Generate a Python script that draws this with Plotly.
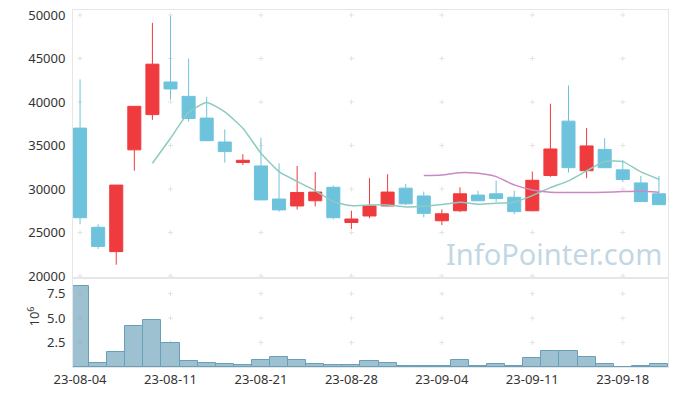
import plotly.graph_objects as go

dates = ["23-08-04", "23-08-07", "23-08-08", "23-08-09", "23-08-10", "23-08-11",
         "23-08-14", "23-08-16", "23-08-17", "23-08-18", "23-08-21", "23-08-22",
         "23-08-23", "23-08-24", "23-08-25", "23-08-28", "23-08-29", "23-08-30",
         "23-08-31", "23-09-01", "23-09-04", "23-09-05", "23-09-06", "23-09-07",
         "23-09-08", "23-09-11", "23-09-12", "23-09-13", "23-09-14", "23-09-15",
         "23-09-18", "23-09-19", "23-09-20"]

opens = [37000, 25600, 22800, 34500, 38550, 42300, 40650, 38150, 35400, 33050, 32650,
         28850, 28050, 28650, 30200, 26150, 26900, 28050, 30100, 29200, 26350, 27500,
         29300, 29450, 29050, 27500, 31550, 37800, 32100, 34550, 32200, 30700, 29450]
highs = [42600, 25950, 30450, 39500, 49100, 49900, 45000, 40600, 36850, 34000, 35900,
         32950, 32650, 31950, 30400, 27500, 31250, 31700, 30600, 29700, 27650, 30200,
         29800, 30950, 29800, 32000, 39800, 41900, 37000, 35850, 33350, 31500, 31500]
lows = [25950, 23100, 21300, 32100, 37950, 40300, 37750, 35500, 33050, 32750, 28700,
        27400, 27650, 28000, 26500, 25400, 26650, 28000, 28150, 26750, 25850, 27350,
        28600, 28500, 27100, 27450, 31400, 31900, 31250, 32400, 30800, 28500, 28200]
closes = [26700, 23400, 30450, 39500, 44350, 41500, 38100, 35550, 34300, 33300, 28750,
          27600, 29600, 29650, 26700, 26550, 28050, 29650, 28300, 27200, 27150, 29450,
          28650, 28900, 27400, 31000, 34600, 32450, 34950, 32450, 31100, 28550, 28200]

ma5 = [None, None, None, None, 32960, 35830, 38790, 39940, 38860, 36980, 34110, 31990,
       30870, 29820, 28550, 28090, 28170, 28170, 27940, 28020, 28210, 28480, 28250,
       28360, 28480, 29240, 30160, 30940, 32080, 33150, 33150, 31960, 31120]
ma20 = [None] * 19 + [31540, 31620, 31880, 31800, 31420, 30470, 29890, 29630, 29590,
                      29590, 29630, 29700, 29730, 29630]

volume_m = [8.30, 0.37, 1.49, 4.22, 4.83, 2.50, 0.58, 0.37, 0.27, 0.17, 0.68, 0.98,
            0.68, 0.27, 0.17, 0.17, 0.58, 0.37, 0.15, 0.15, 0.15, 0.68, 0.15, 0.27,
            0.15, 0.88, 1.59, 1.59, 0.98, 0.27, 0.02, 0.15, 0.27]

x_tick_idx = [0, 5, 10, 15, 20, 25, 30]
price_ticks = [20000, 25000, 30000, 35000, 40000, 45000, 50000]
vol_ticks = [2.5, 5.0, 7.5]
vol_tick_text = ["2.5", "5.0", "7.5"]

RED = "#EF3B3E"
BLUE = "#6EC3DC"
FONT = "Noto Sans"
GRID = "#E3E3E3"

fig = go.Figure()

gx = [dates[i] for i in x_tick_idx]

# grid crosses (small "+" marks behind the data)
shapes = []
def add_cross(xc, yc, xref, yref):
    for (x0, x1, y0, y1) in [(-2.5, 2.5, 0, 0), (0, 0, -2.5, 2.5)]:
        shapes.append(dict(type="line", xref=xref, yref=yref,
                           xsizemode="pixel", ysizemode="pixel",
                           xanchor=xc, yanchor=yc, x0=x0, x1=x1, y0=y0, y1=y1,
                           line=dict(color=GRID, width=1), layer="below"))
for xc in gx:
    for yc in price_ticks:
        add_cross(xc, yc, "x", "y")
    for yc in vol_ticks:
        add_cross(xc, yc, "x2", "y2")

fig.add_trace(go.Candlestick(
    x=dates, open=opens, high=highs, low=lows, close=closes,
    increasing=dict(line=dict(color=RED, width=1), fillcolor=RED),
    decreasing=dict(line=dict(color=BLUE, width=1), fillcolor=BLUE),
    whiskerwidth=0, showlegend=False, xaxis="x", yaxis="y"))

fig.add_trace(go.Scatter(x=dates, y=ma5, mode="lines",
                         line=dict(color="#8CCBC0", width=1.5, shape="spline", smoothing=0.5),
                         showlegend=False, xaxis="x", yaxis="y", hoverinfo="skip"))
fig.add_trace(go.Scatter(x=dates, y=ma20, mode="lines",
                         line=dict(color="#CC88C4", width=1.5, shape="spline", smoothing=0.5),
                         showlegend=False, xaxis="x", yaxis="y", hoverinfo="skip"))

fig.add_trace(go.Bar(x=dates, y=volume_m, marker=dict(color="rgba(125,172,195,0.75)",
                                                      line=dict(color="#6A9FB9", width=1)),
                     showlegend=False, xaxis="x2", yaxis="y2"))

split = 89 / 357
xr = [-0.39, 32.5]
fig.update_layout(
    width=677, height=396,
    margin=dict(l=73, r=9, t=10, b=29, autoexpand=False),
    paper_bgcolor="white", plot_bgcolor="white",
    font=dict(family=FONT, size=13, color="#333333"),
    bargap=0, boxgap=0.1, boxgroupgap=0.2,
    shapes=shapes,
    xaxis=dict(type="category", domain=[0, 1], anchor="y", range=xr, categoryorder="array",
               categoryarray=dates, showticklabels=False, ticks="", showgrid=False,
               showline=True, mirror=True, linecolor="#E6E6E6", linewidth=1,
               rangeslider=dict(visible=False), zeroline=False, automargin=False),
    yaxis=dict(domain=[split, 1], anchor="x", range=[19770, 50575], tickvals=price_ticks,
               ticktext=[str(v) for v in price_ticks], showgrid=False, zeroline=False,
               showline=True, mirror=True, linecolor="#E6E6E6", linewidth=1,
               ticks="", ticklabelstandoff=4, automargin=False),
    xaxis2=dict(type="category", domain=[0, 1], anchor="y2", range=xr, matches="x",
                categoryorder="array", categoryarray=dates,
                tickvals=gx, ticktext=gx, ticks="", showgrid=False,
                showline=True, mirror=True, linecolor="#E6E6E6", linewidth=1,
                zeroline=False, tickfont=dict(size=13), automargin=False),
    yaxis2=dict(domain=[0, split], anchor="x2", range=[0, 9.1], tickvals=vol_ticks,
                ticktext=vol_tick_text, showgrid=False, zeroline=False,
                showline=True, mirror=True, linecolor="#E6E6E6", linewidth=1, ticks="",
                ticklabelstandoff=4, automargin=False),
    annotations=[
        dict(text="InfoPointer.com", xref="paper", yref="paper", x=0.993, y=0.318,
             xanchor="right", yanchor="middle", showarrow=False,
             font=dict(family=FONT, size=29, color="rgba(165,198,215,0.7)")),
        dict(text="10<sup>6</sup>", xref="paper", yref="paper", x=-0.068, y=0.14,
             xanchor="center", yanchor="middle", showarrow=False, textangle=-90,
             font=dict(family=FONT, size=13, color="#333333")),
    ],
    hovermode=False,
)

fig.write_html("out.html", config={"displayModeBar": False},
               post_script="document.body.style.margin='0';")
